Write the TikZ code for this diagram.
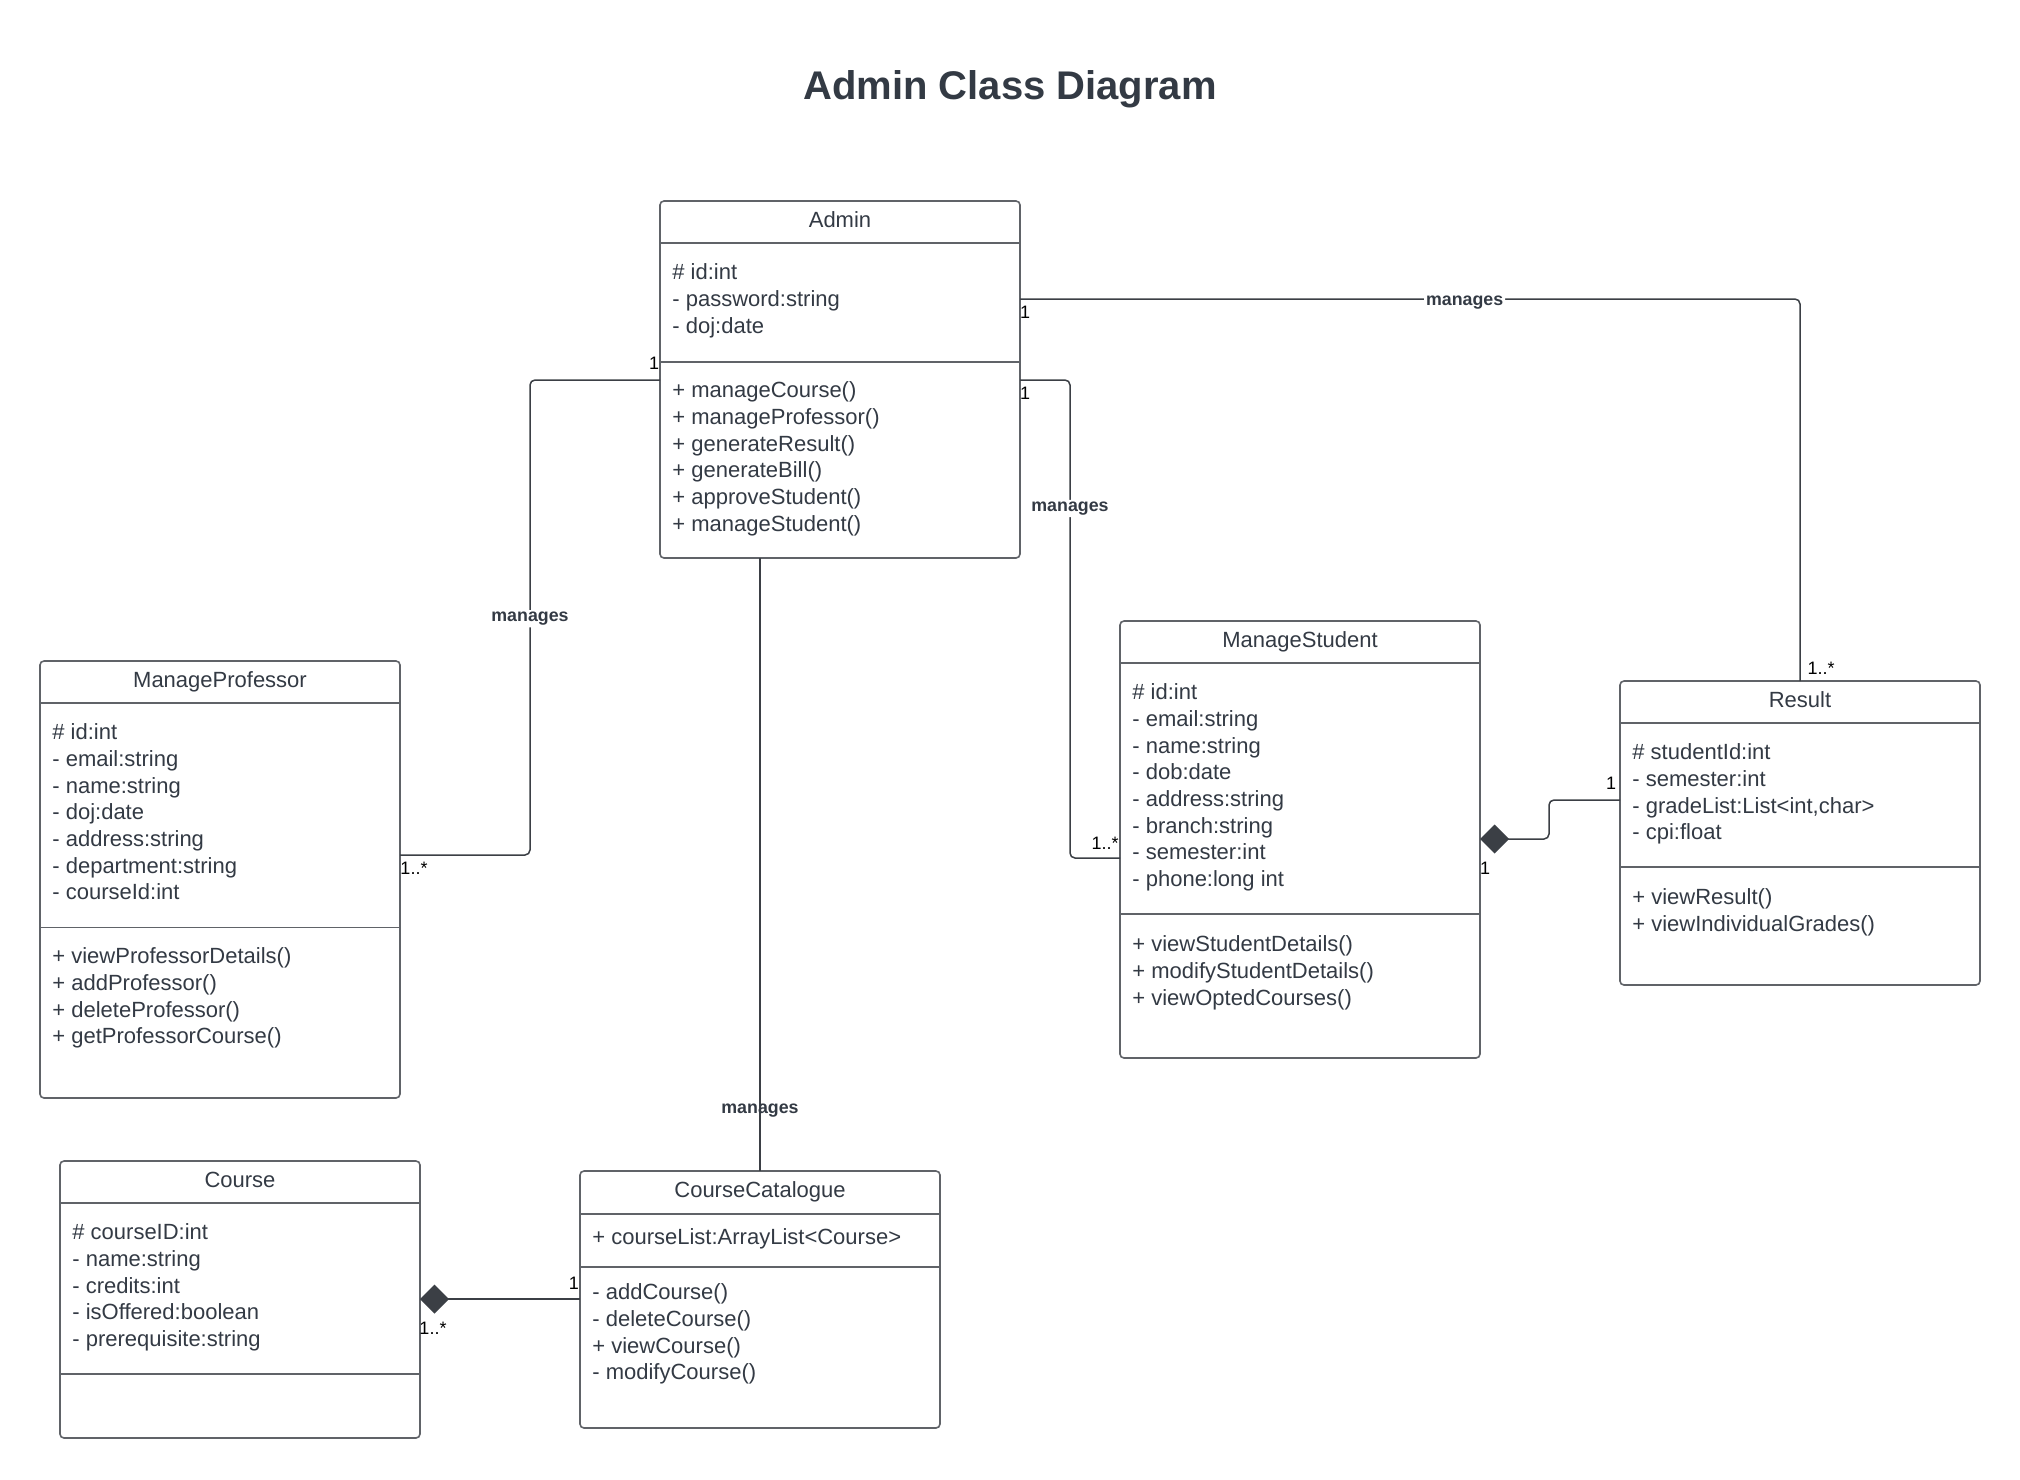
\documentclass[tikz,border=0pt]{standalone}
\usepackage{fontspec}
\setmainfont{Liberation Sans}
\usetikzlibrary{arrows.meta,calc}
\definecolor{txt}{HTML}{333A44}
\definecolor{bord}{HTML}{606368}
\definecolor{lnk}{HTML}{3B3F45}
\newcommand\cmplines[4]{\foreach \t [count=\i] in {#4} {\node[item] (#1\i) at ({#2},{#3+(\i-1)*26.65}) {\t};}}
\begin{document}
\begin{tikzpicture}[x=0.5pt,y=-0.5pt,
 cls/.style={draw=bord, line width=0.8pt, rounded corners=2pt, inner sep=0pt, outer sep=0pt, minimum width=180pt, anchor=north west, fill=white},
 item/.style={anchor=base west, inner sep=0pt, text=txt, font=\fontsize{11pt}{13pt}\selectfont, yshift=0.6pt},
 ctitle/.style={anchor=base, inner sep=0pt, text=txt, font=\fontsize{11pt}{13pt}\selectfont, yshift=0.4pt},
 div/.style={draw=bord, line width=0.8pt},
 conn/.style={draw=lnk, line width=0.75pt, rounded corners=2.5pt},
 lbl/.style={font=\bfseries\fontsize{8.9pt}{10pt}\selectfont, text=txt, fill=white, inner sep=1pt, yshift=-1.6pt},
 mult/.style={font=\fontsize{9pt}{10pt}\selectfont, inner sep=0pt, text=black},
 comp/.style={conn, -{Diamond[length=14.5pt,width=14.5pt]}}]
\fill[white] (0,0) rectangle (2020,1479);
\useasboundingbox (0,0) rectangle (2020,1479);

\node[font=\bfseries\fontsize{20pt}{24pt}\selectfont, text=txt, anchor=base, inner sep=0pt] (title) at (1010,99) {Admin Class Diagram};

% Admin
\node[cls, minimum height=178.5pt] (admin) at (660,201) {};
\draw[div] (660,243) -- (1020,243) (660,362) -- (1020,362);
\node[ctitle] (adminT) at (840,228) {Admin};
\cmplines{adA}{672}{281}{\# id:int, - password:string, - doj:date}
\cmplines{adM}{672}{399}{+ manageCourse(), + manageProfessor(), + generateResult(), + generateBill(), + approveStudent(), + manageStudent()}

% ManageProfessor
\node[cls, minimum height=218.5pt] (mp) at (40,661) {};
\draw[div] (40,703) -- (400,703) (40,927.5) -- (400,927.5);
\node[ctitle] (mpT) at (220,688) {ManageProfessor};
\cmplines{mpA}{52}{741}{\# id:int, - email:string, - name:string, - doj:date, - address:string, - department:string, - courseId:int}
\cmplines{mpM}{52}{965}{+ viewProfessorDetails(), + addProfessor(), + deleteProfessor(), + getProfessorCourse()}

% ManageStudent
\node[cls, minimum height=218.5pt] (ms) at (1120,621) {};
\draw[div] (1120,663) -- (1480,663) (1120,914) -- (1480,914);
\node[ctitle] (msT) at (1300,648) {ManageStudent};
\cmplines{msA}{1132}{701}{\# id:int, - email:string, - name:string, - dob:date, - address:string, - branch:string, - semester:int, - phone:long int}
\cmplines{msM}{1132}{953}{+ viewStudentDetails(), + modifyStudentDetails(), + viewOptedCourses()}

% Result
\node[cls, minimum height=152pt] (result) at (1620,681) {};
\draw[div] (1620,723) -- (1980,723) (1620,867) -- (1980,867);
\node[ctitle] (resT) at (1800,708) {Result};
\cmplines{resA}{1632}{761}{\# studentId:int, - semester:int, {- gradeList:List<int,char>}, - cpi:float}
\cmplines{resM}{1632}{906}{+ viewResult(), + viewIndividualGrades()}

% Course
\node[cls, minimum height=138.5pt] (course) at (60,1161) {};
\draw[div] (60,1203) -- (420,1203) (60,1374) -- (420,1374);
\node[ctitle] (coT) at (240,1188) {Course};
\cmplines{coA}{72}{1241}{\# courseID:int, - name:string, - credits:int, - isOffered:boolean, - prerequisite:string}

% CourseCatalogue
\node[cls, minimum height=128.5pt] (cc) at (580,1171) {};
\draw[div] (580,1214) -- (940,1214) (580,1267) -- (940,1267);
\node[ctitle] (ccT) at (760,1198) {CourseCatalogue};
\cmplines{ccA}{592}{1246}{+ courseList:ArrayList<Course>}
\cmplines{ccM}{592}{1301}{- addCourse(), - deleteCourse(), + viewCourse(), - modifyCourse()}

% connectors
\draw[conn] ($(admin.north east)+(0,98)$) -| node[lbl,pos=0.285]{manages} (result.north);
\draw[conn] ($(admin.north east)+(0,179)$) -| node[lbl,pos=0.631]{manages} ($(ms.north west)+(-50,237)$) -- ($(ms.north west)+(0,237)$);
\draw[conn] ($(admin.north west)+(0,179)$) -| node[lbl,pos=0.748]{manages} ($(mp.north east)+(130,194)$) -- ($(mp.north east)+(0,194)$);
\draw[conn] (cc.north |- admin.south) -- node[lbl, fill=none, pos=0.897]{manages} (cc.north);
\draw[comp] ($(result.north west)+(0,119)$) -| ($(ms.north east)+(69,218)$) -- ($(ms.north east)+(0,218)$);
\draw[comp] ($(cc.north west)+(0,128)$) -- ($(course.north east)+(0,138)$);

% multiplicities
\node[mult] (m1) at (1025,312) {1};
\node[mult] (m2) at (1025,393) {1};
\node[mult] (m3) at (654,363) {1};
\node[mult] (m4) at (1105,843) {1..*};
\node[mult] (m5) at (1821,668) {1..*};
\node[mult] (m6) at (1611,783) {1};
\node[mult] (m7) at (1485,868) {1};
\node[mult] (m8) at (414,868) {1..*};
\node[mult] (m9) at (574,1283) {1};
\node[mult] (m10) at (433,1328) {1..*};
\end{tikzpicture}
\end{document}
